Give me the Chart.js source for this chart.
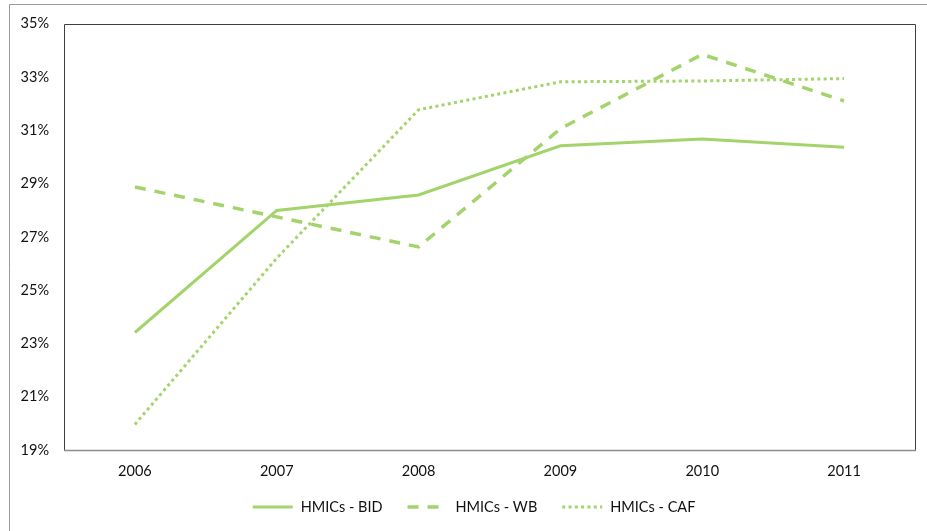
<!DOCTYPE html>
<html>
<head>
<meta charset="utf-8">
<script src="https://cdn.jsdelivr.net/npm/chart.js@4/dist/chart.umd.min.js"></script>
<style>
  html, body { margin: 0; padding: 0; background: #fff; }
  #wrap { width: 927px; height: 531px; }
</style>
</head>
<body>
<div id="wrap"><canvas id="c" width="927" height="531"></canvas></div>
<script>
// Share of HMICs, 2006-2011 (percent)
const years = ['2006', '2007', '2008', '2009', '2010', '2011'];
const bid = [23.41, 27.99, 28.57, 30.42, 30.67, 30.36];
const wb  = [28.87, 27.75, 26.62, 31.06, 33.85, 32.10];
const caf = [19.96, 26.20, 31.77, 32.82, 32.85, 32.94];
const seriesNames = ['HMICs - BID', 'HMICs - WB', 'HMICs - CAF'];
const yMin = 19, yMax = 35, yStep = 2;

const GREEN = '#a3d46b';
const FONT = 'Lato, "Open Sans", sans-serif';
const FONT_SIZE = 14.5;

// Outer chart border, plot-area box and the grey category axis line
const framePlugin = {
  id: 'frame',
  afterDraw(chart) {
    const { ctx, chartArea: a } = chart;
    ctx.save();
    ctx.lineWidth = 1;
    ctx.strokeStyle = '#9a9a9a';
    ctx.beginPath();
    ctx.moveTo(9.5, 531);
    ctx.lineTo(9.5, 4.5);
    ctx.lineTo(927, 4.5);
    ctx.stroke();

    ctx.strokeStyle = '#3f3f3f';
    ctx.beginPath();
    ctx.moveTo(Math.round(a.left) + 0.5, Math.round(a.bottom) + 0.5);
    ctx.lineTo(Math.round(a.left) + 0.5, Math.round(a.top) + 0.5);
    ctx.lineTo(Math.round(a.right) + 0.5, Math.round(a.top) + 0.5);
    ctx.lineTo(Math.round(a.right) + 0.5, Math.round(a.bottom) + 0.5);
    ctx.stroke();

    ctx.strokeStyle = '#8c8c8c';
    ctx.lineWidth = 1.5;
    ctx.beginPath();
    ctx.moveTo(a.left, Math.round(a.bottom) + 0.5);
    ctx.lineTo(a.right + 1, Math.round(a.bottom) + 0.5);
    ctx.stroke();
    ctx.restore();
  }
};

// Legend row below the axis: line sample followed by the series name
const legendPlugin = {
  id: 'lineLegend',
  afterDraw(chart) {
    const { ctx } = chart;
    const lineLen = 40, gapText = 8, gapItem = 25, centerX = 474, y = 507;
    ctx.save();
    ctx.font = FONT_SIZE + 'px ' + FONT;
    const items = chart.data.datasets.map(ds => ({
      ds, w: lineLen + gapText + ctx.measureText(ds.label).width
    }));
    const total = items.reduce((s, it) => s + it.w, 0) + gapItem * (items.length - 1);
    let x = centerX - total / 2;
    items.forEach(it => {
      ctx.strokeStyle = it.ds.borderColor;
      ctx.lineWidth = it.ds.borderWidth;
      ctx.setLineDash(it.ds.borderDash || []);
      ctx.lineCap = 'butt';
      ctx.beginPath();
      ctx.moveTo(x, y);
      ctx.lineTo(x + lineLen, y);
      ctx.stroke();
      ctx.setLineDash([]);
      ctx.fillStyle = '#111';
      ctx.textBaseline = 'middle';
      ctx.textAlign = 'left';
      ctx.fillText(it.ds.label, x + lineLen + gapText, y);
      x += it.w + gapItem;
    });
    ctx.restore();
  }
};

const lineDataset = (label, data, dash, width) => ({
  label, data,
  borderColor: GREEN,
  backgroundColor: GREEN,
  borderWidth: width,
  borderDash: dash,
  pointRadius: 0,
  pointHoverRadius: 0,
  tension: 0,
  fill: false
});

new Chart(document.getElementById('c'), {
  type: 'line',
  data: {
    labels: years,
    datasets: [
      lineDataset(seriesNames[0], bid, [], 3),
      lineDataset(seriesNames[1], wb, [11, 9], 3.5),
      lineDataset(seriesNames[2], caf, [3, 3.3], 3)
    ]
  },
  options: {
    responsive: false,
    animation: false,
    devicePixelRatio: 1,
    layout: { padding: { left: 0, top: 23, right: 12, bottom: 0 } },
    plugins: {
      legend: { display: false },
      tooltip: { enabled: false },
      title: { display: false }
    },
    scales: {
      x: {
        offset: true,
        grid: { display: false, drawTicks: false },
        border: { display: false },
        ticks: { color: '#111', font: { family: FONT, size: FONT_SIZE }, padding: 13, maxRotation: 0 },
        afterFit(scale) { scale.height = 81; }
      },
      y: {
        min: yMin, max: yMax,
        grid: { display: false, drawTicks: false },
        border: { display: false },
        ticks: {
          stepSize: yStep,
          color: '#111',
          font: { family: FONT, size: FONT_SIZE },
          padding: 15,
          callback: v => v + '%'
        },
        afterFit(scale) { scale.width = 64; }
      }
    }
  },
  plugins: [framePlugin, legendPlugin]
});
</script>
</body>
</html>
